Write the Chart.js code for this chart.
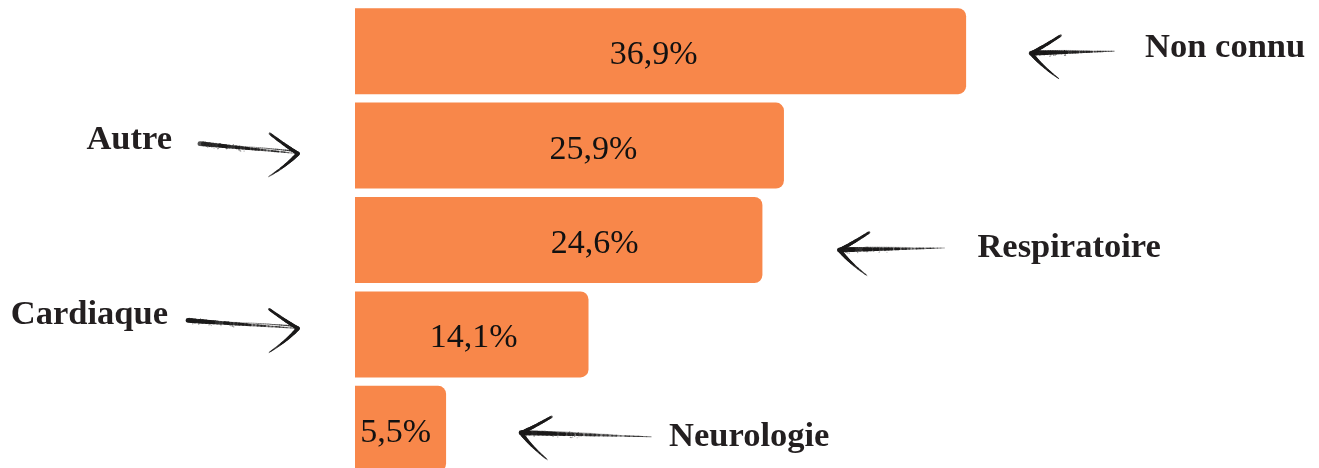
<!DOCTYPE html>
<html>
<head>
<meta charset="utf-8">
<script src="https://cdn.jsdelivr.net/npm/chart.js@4/dist/chart.umd.min.js"></script>
<style>
  html, body { margin: 0; padding: 0; background: #fff; overflow: hidden; height: 468px; }
  canvas { display: block; }
</style>
</head>
<body>
<canvas id="myChart" width="1319" height="478"></canvas>
<script>
const categories = ['Non connu', 'Autre', 'Respiratoire', 'Cardiaque', 'Neurologie']
const shares = [36.9, 25.9, 24.6, 14.1, 5.5]

const barColor = '#F8874A'
const inkColor = '#231F20'
const serif = "'Liberation Serif', 'Times New Roman', serif"

// where each callout sits, relative to the bar end (right) or the chart's left edge (left)
// valueShift nudges the percentage inside the bar
const callouts = [
  { side: 'right', tip: [65, 2], tail: [148, 0], text: [179, 6], valueShift: -7 },
  { side: 'left', tip: [-57, 8], tail: [-155, -2], text: [-183, 3], valueShift: 24 },
  { side: 'right', tip: [77, 10], tail: [182, 8], text: [215, 17], valueShift: 36 },
  { side: 'left', tip: [-57, -6], tail: [-167, -14], text: [-187, -10], valueShift: 2 },
  { side: 'right', tip: [75, 4], tail: [205, 8], text: [223, 17], valueShift: -5 },
]

// small deterministic jitter for the pen texture
let seed = 7
function jitter() {
  seed = (seed * 16807) % 2147483647
  return seed / 2147483647 - 0.5
}

// tapered stroke along a quadratic curve
function taper(ctx, p0, c, p1, w0, w1, alpha0, alpha1, rough) {
  const n = 30
  let prev = p0
  for (let i = 1; i <= n; i++) {
    const t = i / n
    const x = (1 - t) * (1 - t) * p0[0] + 2 * (1 - t) * t * c[0] + t * t * p1[0]
    const y = (1 - t) * (1 - t) * p0[1] + 2 * (1 - t) * t * c[1] + t * t * p1[1]
    ctx.globalAlpha = Math.max(0, Math.min(1, alpha0 + (alpha1 - alpha0) * t + (rough ? jitter() * 0.5 : 0)))
    ctx.lineWidth = w0 + (w1 - w0) * t
    ctx.beginPath()
    ctx.moveTo(prev[0], prev[1])
    ctx.lineTo(x, y)
    ctx.stroke()
    prev = [x, y]
  }
  ctx.globalAlpha = 1
}

function drawArrow(ctx, tip, tail) {
  const dx = tail[0] - tip[0]
  const dy = tail[1] - tip[1]
  const len = Math.hypot(dx, dy)
  const ux = dx / len
  const uy = dy / len
  // perpendicular pointing up on screen
  let nx = uy
  let ny = -ux
  if (ny > 0) { nx = -nx; ny = -ny }
  const pt = (a, b) => [tip[0] + ux * a + nx * b, tip[1] + uy * a + ny * b]

  ctx.save()
  ctx.strokeStyle = '#1b1a1a'
  ctx.lineCap = 'round'
  const leftEnd = tip[0] < tail[0] ? tip : tail
  const rightEnd = tip[0] < tail[0] ? tail : tip
  const mid = [(leftEnd[0] + rightEnd[0]) / 2, (leftEnd[1] + rightEnd[1]) / 2]
  // shaft: heavy on the left, fading to the right
  taper(ctx, leftEnd, mid, rightEnd, 5, 0.8, 1, 0.6, true)
  ctx.setLineDash([2, 2])
  taper(ctx, pt(len * 0.05, 2), pt(len * 0.35, 2.5), pt(len * 0.7, 1), 1.3, 0.5, 0.8, 0.3)
  ctx.setLineDash([])
  // speckles near the heavy end
  ctx.fillStyle = '#1b1a1a'
  for (let k = 0; k < 40; k++) {
    const a = (jitter() + 0.5) * len * 0.45
    const s = leftEnd === tip ? a : len - a
    const p = pt(s, jitter() * 6)
    ctx.globalAlpha = 0.5 + jitter() * 0.5
    ctx.fillRect(p[0], p[1], 1, 1)
  }
  ctx.globalAlpha = 1
  // barbs
  taper(ctx, tip, pt(14, 7), pt(30, 17), 3.6, 2.4, 1, 0.85, true)
  taper(ctx, tip, pt(10, -13), pt(27, -26), 4, 1, 1, 0.75, true)
  ctx.restore()
}

const calloutPlugin = {
  id: 'callouts',
  afterDatasetsDraw(chart) {
    const ctx = chart.ctx
    const bars = chart.getDatasetMeta(0).data
    const left = chart.chartArea.left
    ctx.save()
    bars.forEach((bar, i) => {
      const c = callouts[i]
      // value inside the bar
      ctx.fillStyle = '#111'
      ctx.font = '34px ' + serif
      ctx.textAlign = 'center'
      ctx.textBaseline = 'middle'
      const label = shares[i].toFixed(1).replace('.', ',') + '%'
      ctx.fillText(label, (bar.base + bar.x) / 2 + c.valueShift, bar.y + 4)

      // category name with hand drawn arrow
      const ox = c.side === 'right' ? bar.x : left
      const tip = [ox + c.tip[0], bar.y + c.tip[1]]
      const tail = [ox + c.tail[0], bar.y + c.tail[1]]
      drawArrow(ctx, tip, tail)
      ctx.fillStyle = inkColor
      ctx.font = 'bold 34.5px ' + serif
      ctx.textAlign = c.side === 'right' ? 'left' : 'right'
      ctx.textBaseline = 'alphabetic'
      ctx.fillText(categories[i], ox + c.text[0], bar.y + c.text[1])
    })
    ctx.restore()
  },
}

const chartConfig = {
  type: 'bar',
  data: {
    labels: categories,
    datasets: [
      {
        data: shares,
        backgroundColor: barColor,
        borderRadius: 8,
        borderSkipped: 'start',
        barPercentage: 0.911,
        categoryPercentage: 1,
      },
    ],
  },
  options: {
    indexAxis: 'y',
    responsive: false,
    animation: false,
    layout: { padding: { left: 355, right: 20, top: 4, bottom: 2 } },
    scales: {
      x: { display: false, min: 0, max: 57 },
      y: { display: false },
    },
    plugins: {
      legend: { display: false },
      tooltip: { enabled: false },
    },
  },
  plugins: [calloutPlugin],
}

const ctx = document.getElementById('myChart').getContext('2d')
const chart = new Chart(ctx, chartConfig)
</script>
</body>
</html>
